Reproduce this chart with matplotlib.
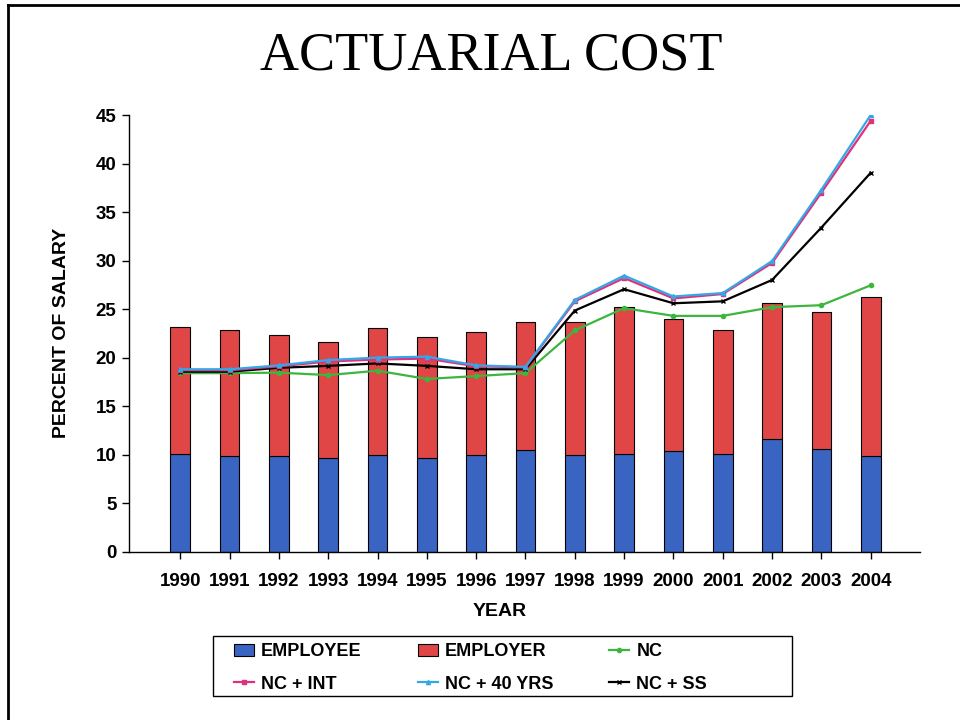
import matplotlib
matplotlib.use("Agg")
import matplotlib.pyplot as plt
from matplotlib.lines import Line2D
from matplotlib.patches import Rectangle
import numpy as np

years = ["1990", "1991", "1992", "1993", "1994", "1995", "1996", "1997",
         "1998", "1999", "2000", "2001", "2002", "2003", "2004"]
employee = [10.1, 9.85, 9.9, 9.65, 10.0, 9.65, 10.0, 10.45,
            9.95, 10.1, 10.35, 10.1, 11.6, 10.6, 9.9]
total_cost = [23.2, 22.85, 22.35, 21.6, 23.0, 22.1, 22.6, 23.7,
              23.65, 25.25, 23.95, 22.85, 25.65, 24.7, 26.2]
employer = [t - e for t, e in zip(total_cost, employee)]
nc = [18.4, 18.4, 18.45, 18.2, 18.65, 17.8, 18.1, 18.4,
      22.8, 25.1, 24.3, 24.3, 25.2, 25.4, 27.45]
nc_int = [18.7, 18.7, 19.1, 19.6, 19.8, 19.9, 19.1, 19.0,
          25.8, 28.2, 26.1, 26.55, 29.75, 37.0, 44.4]
nc_40 = [18.8, 18.8, 19.2, 19.75, 20.0, 20.1, 19.2, 19.05,
         25.95, 28.45, 26.3, 26.65, 29.95, 37.3, 45.0]
nc_ss = [18.55, 18.55, 18.95, 19.15, 19.4, 19.15, 18.8, 18.8,
         24.85, 27.05, 25.6, 25.8, 28.0, 33.4, 39.05]

plt.rcParams['font.family'] = ['Liberation Sans', 'DejaVu Sans']

fig = plt.figure(figsize=(9.6, 7.2), dpi=100)
ax = fig.add_axes([129/960, 1-551.7/720, 791/960, (551.7-115)/720])

x = np.arange(len(years))
blue = '#3a64c2'
red = '#e04646'
b1 = ax.bar(x, employee, width=0.4, color=blue, edgecolor='black', linewidth=0.8, label='EMPLOYEE', zorder=2)
b2 = ax.bar(x, employer, width=0.4, bottom=employee, color=red, edgecolor='black', linewidth=0.8, label='EMPLOYER', zorder=2)

l_nc, = ax.plot(x, nc, color='#3cb63c', lw=1.6, marker='o', ms=3, label='NC', zorder=3)
l_int, = ax.plot(x, nc_int, color='#e0307c', lw=1.6, marker='s', ms=2.5, label='NC + INT', zorder=4)
l_40, = ax.plot(x, nc_40, color='#34a8e6', lw=1.6, marker='^', ms=3, label='NC + 40 YRS', zorder=5)
l_ss, = ax.plot(x, nc_ss, color='black', lw=1.6, marker='x', ms=3.5, label='NC + SS', zorder=3)

ax.set_xlim(-1.04, 15.0)
ax.set_ylim(0, 45)
ax.set_yticks(range(0, 46, 5))
ax.set_xticks(x)
ax.set_xticklabels(years)
for s in ['top', 'right']:
    ax.spines[s].set_visible(False)
for s in ['left', 'bottom']:
    ax.spines[s].set_linewidth(1.0)
ax.tick_params(axis='both', direction='out', length=5, width=1.0, labelsize=13.5, pad=4)
for lab in ax.get_xticklabels() + ax.get_yticklabels():
    lab.set_fontweight('bold')
ax.tick_params(axis='x', pad=10)

ax.set_ylabel('PERCENT OF SALARY', fontsize=14, fontweight='bold')
ax.yaxis.set_label_coords((70-129)/791, 0.5)
ax.set_xlabel('YEAR', fontsize=14, fontweight='bold')
ax.xaxis.set_label_coords((500-129)/791, -(603-551.7)/(551.7-115))

fig.text(491/960, 1-70/720, 'ACTUARIAL COST', ha='center', va='baseline',
         fontsize=39, family=['Liberation Serif', 'DejaVu Serif'])

# legend frame
fig.add_artist(Rectangle((213/960, 1-696/720), (792-213)/960, (696-636)/720,
                         transform=fig.transFigure, fill=False, edgecolor='black', lw=1.0))

handles = [b1, l_int, b2, l_40, l_nc, l_ss]
labels = [h.get_label() for h in handles]
leg = fig.legend(handles, labels, loc='center left', bbox_to_anchor=(234/960, 1-668/720),
                 ncol=3, frameon=False, borderaxespad=0, borderpad=0,
                 prop={'weight': 'bold', 'size': 13}, columnspacing=3.1,
                 handlelength=1.1, handletextpad=0.4, labelspacing=0.85)

# page frame
fig.add_artist(Line2D([8/960, 8/960], [0, 1-5/720], transform=fig.transFigure, color='black', lw=2))
fig.add_artist(Line2D([8/960, 1], [1-5/720, 1-5/720], transform=fig.transFigure, color='black', lw=2))

fig.savefig('out.png', dpi=100)
